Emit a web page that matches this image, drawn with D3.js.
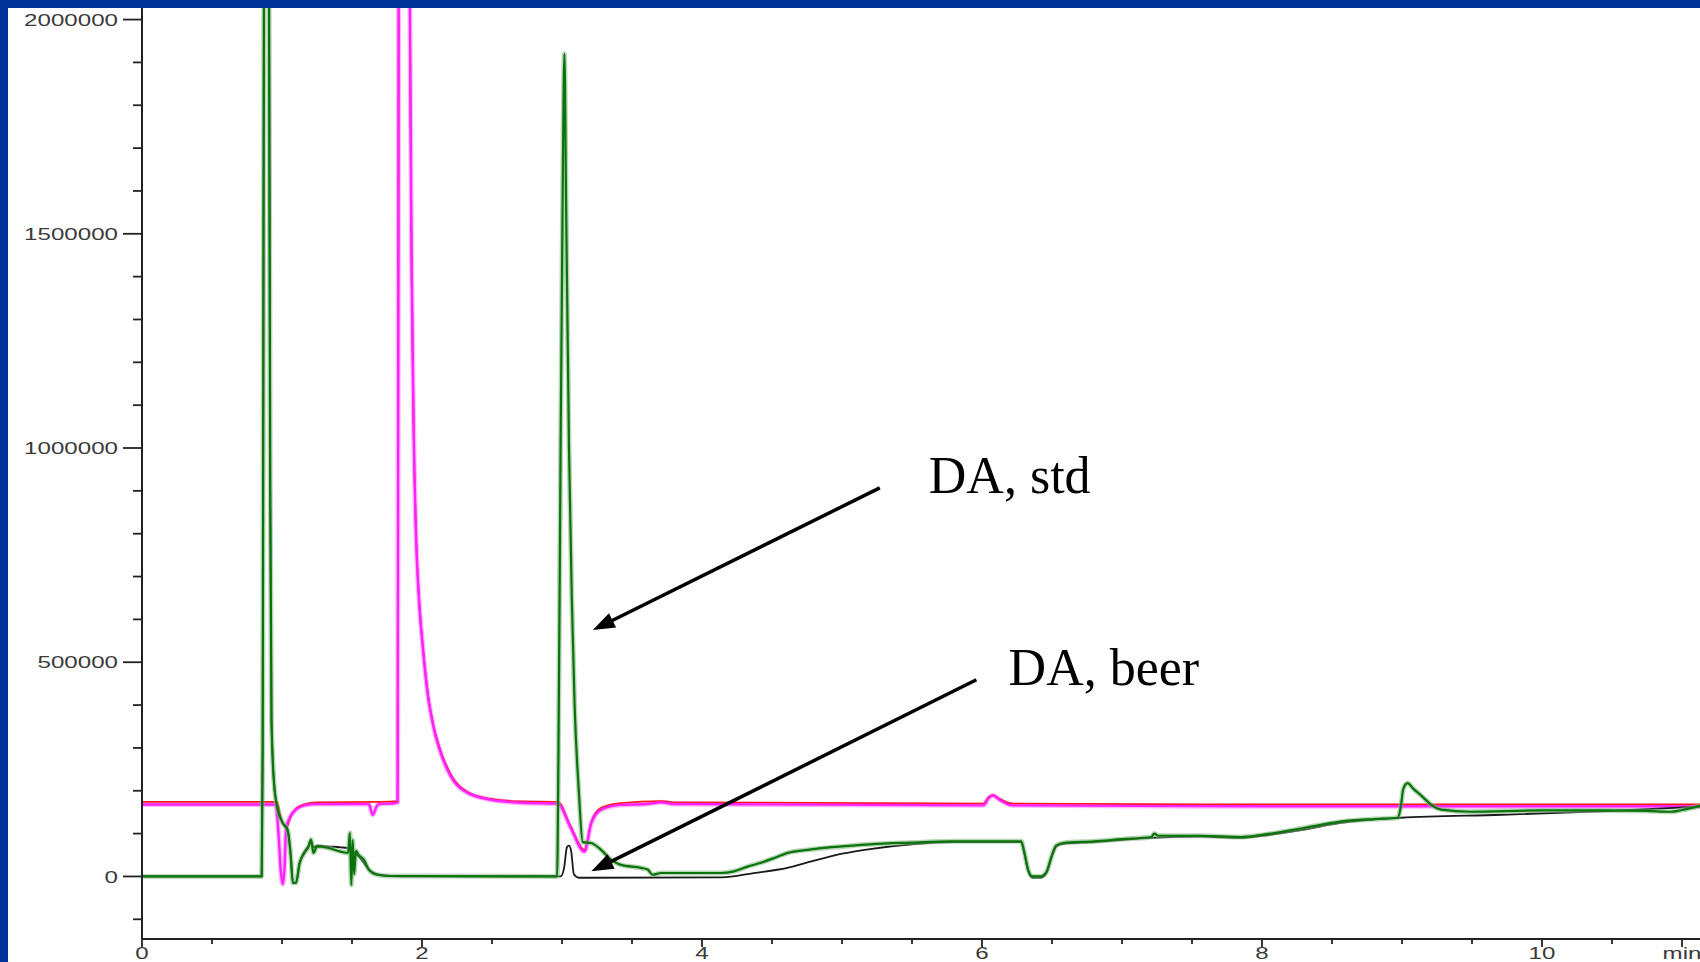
<!DOCTYPE html>
<html>
<head>
<meta charset="utf-8">
<script src="https://cdn.jsdelivr.net/npm/d3@7"></script>
<style>
  html, body { margin: 0; padding: 0; background: #fff; }
  svg { display: block; }
</style>
</head>
<body>
<svg id="chart" width="1700" height="962"></svg>
<script>
// Chromatogram: DA standard vs beer (time in min, signal in counts)

// red trace
const redTrace = [
  [0, 174000], [0.965, 174000], [0.99, 140000], [1.03, 113000], [1.06, 138000],
  [1.10, 158000], [1.16, 168000], [1.25, 173000], [1.70, 174000], [1.826, 176000],
  [1.835, 2500000], [1.86, 3500000], [1.895, 2700000], [1.91, 2200000], [1.925, 1450000],
  [1.94, 1050000], [1.957, 800000], [1.98, 640000], [2.005, 540000], [2.04, 430000],
  [2.08, 355000], [2.124, 302000], [2.207, 237000], [2.326, 197000], [2.493, 181000],
  [2.71, 175000], [2.97, 174000], [3.06, 118000], [3.16, 62000], [3.21, 128000],
  [3.28, 160000], [3.42, 171000], [3.71, 176000], [3.80, 173000], [6.01, 170000],
  [6.05, 186000], [6.08, 190000], [6.12, 182000], [6.22, 170000], [8.0, 168000],
  [11.13, 168000]
];

// magenta trace
const pinkTrace = [
  [0, 168000], [0.955, 168000], [0.975, 100000], [0.992, 10000], [1.005, -18000],
  [1.018, 20000], [1.03, 113000], [1.06, 140000], [1.10, 156000], [1.16, 166000],
  [1.25, 169000], [1.62, 169000], [1.648, 144000], [1.68, 166000], [1.70, 169000],
  [1.80, 171000], [1.826, 173000], [1.835, 2500000], [1.86, 3500000], [1.895, 2700000],
  [1.91, 2200000], [1.925, 1450000], [1.94, 1050000], [1.957, 800000], [1.98, 640000],
  [2.005, 538000], [2.04, 428000], [2.08, 352000], [2.124, 298000], [2.207, 233000],
  [2.326, 195000], [2.493, 179000], [2.71, 172000], [2.97, 170000], [3.06, 115000],
  [3.16, 58000], [3.21, 125000], [3.28, 156000], [3.42, 167000], [3.60, 169000],
  [3.71, 173000], [3.80, 169000], [6.01, 166000], [6.05, 184000], [6.08, 189000],
  [6.12, 180000], [6.22, 166000], [8.0, 164000], [11.13, 164000]
];

// black trace (beer)
const beerTrace = [
  [0, 0], [0.855, 0], [0.862, 300000], [0.868, 1500000], [0.878, 3000000],
  [0.898, 3000000], [0.908, 2000000], [0.916, 900000], [0.925, 366000], [0.945, 210000],
  [0.975, 150000], [1.005, 125000], [1.04, 109000], [1.062, 50000], [1.078, -15000],
  [1.10, -15000], [1.125, 30000], [1.16, 58000], [1.19, 72000], [1.207, 84000],
  [1.225, 68000], [1.25, 72000], [1.325, 70000], [1.42, 68000], [1.47, 66000],
  [1.50, 60000], [1.53, 52000], [1.57, 38000], [1.61, 20000], [1.65, 9000],
  [1.72, 3000], [1.85, 0], [2.99, 0], [3.015, 20000], [3.035, 68000],
  [3.05, 72000], [3.065, 60000], [3.085, 5000], [3.12, -3000], [4.14, -2000],
  [4.37, 8000], [4.61, 20000], [4.78, 35000], [4.85, 41000], [5.0, 53000],
  [5.2, 64000], [5.5, 75000], [5.78, 80000], [6.28, 80000], [6.30, 58000],
  [6.33, 12000], [6.36, -3000], [6.42, -3000], [6.46, 8000], [6.50, 48000],
  [6.53, 70000], [6.58, 76000], [6.8, 80000], [7.21, 90000], [7.56, 93000],
  [7.85, 90000], [8.0, 95000], [8.28, 108000], [8.56, 125000], [8.99, 137000],
  [9.71, 144000], [10.42, 152000], [11.13, 163000]
];

// green trace (standard)
const stdTrace = [
  [0, 0], [0.855, 0], [0.862, 300000], [0.868, 1500000], [0.878, 3000000],
  [0.898, 3000000], [0.908, 2000000], [0.916, 900000], [0.925, 366000], [0.945, 210000],
  [0.975, 150000], [1.005, 125000], [1.04, 109000], [1.062, 50000], [1.078, -15000],
  [1.10, -15000], [1.125, 30000], [1.16, 55000], [1.19, 70000], [1.207, 86000],
  [1.225, 55000], [1.25, 70000], [1.325, 67000], [1.42, 58000], [1.472, 55000],
  [1.485, 102000], [1.495, -20000], [1.505, 85000], [1.515, 5000], [1.528, 60000],
  [1.545, 51000], [1.585, 39000], [1.62, 16000], [1.68, 4000], [1.78, 1000],
  [2.965, 0], [2.975, 300000], [2.99, 1000000], [3.005, 1600000], [3.017, 1920000],
  [3.03, 1550000], [3.05, 1000000], [3.07, 650000], [3.09, 400000], [3.12, 200000],
  [3.148, 80000], [3.207, 78000], [3.279, 62000], [3.35, 39000], [3.421, 27000],
  [3.564, 20000], [3.612, 16000], [3.648, 4000], [3.707, 8000], [4.136, 8000],
  [4.229, 12000], [4.326, 23000], [4.421, 32000], [4.516, 43000], [4.612, 55000],
  [4.755, 62000], [4.85, 66000], [5.0, 70000], [5.2, 75000], [5.5, 79000],
  [5.78, 82000], [6.0, 82000], [6.28, 82000], [6.30, 60000], [6.33, 15000],
  [6.36, 0], [6.42, 0], [6.46, 10000], [6.50, 50000], [6.53, 72000],
  [6.58, 78000], [6.8, 82000], [7.0, 87000], [7.21, 92000], [7.23, 100000],
  [7.26, 95000], [7.56, 95000], [7.85, 92000], [8.0, 97000], [8.28, 112000],
  [8.56, 128000], [8.8, 134000], [8.97, 137000], [8.99, 160000], [9.01, 205000],
  [9.04, 218000], [9.08, 205000], [9.14, 188000], [9.21, 167000], [9.28, 156000],
  [9.49, 151000], [9.99, 154000], [10.42, 154000], [10.75, 153000], [10.92, 151000],
  [11.0, 155000], [11.13, 165000]
];

const yTickValues = [0, 500000, 1000000, 1500000, 2000000];
const yTickLabels = ["0", "500000", "1000000", "1500000", "2000000"];
const xTickValues = [0, 2, 4, 6, 8, 10, 11];
const xTickLabels = ["0", "2", "4", "6", "8", "10", "min"];

// annotations: label at [t, value], arrow from -> to in data units
const notes = [
  { text: "DA, std",  at: [5.62, 895000], from: [5.27, 907000], to: [3.22, 575000] },
  { text: "DA, beer", at: [6.19, 447000], from: [5.96, 459000], to: [3.21, 12000] }
];

const svg = d3.select("#chart");
const W = 1700, H = 962;
const plotLeft = 142, plotTop = 8, plotRight = 1700, plotBottom = 939;

const x = d3.scaleLinear().domain([0, (plotRight - plotLeft) / 140]).range([plotLeft, plotRight]);
const y = d3.scaleLinear().domain([-146000, 2027000]).range([plotBottom, plotTop]);

svg.append("rect").attr("width", W).attr("height", H).attr("fill", "#fff");

svg.append("defs").append("clipPath").attr("id", "plot-clip")
  .append("rect")
  .attr("x", plotLeft).attr("y", plotTop)
  .attr("width", plotRight - plotLeft).attr("height", plotBottom - plotTop);

const line = d3.line()
  .x(d => x(d[0]))
  .y(d => y(d[1]))
  .curve(d3.curveMonotoneX);

const plot = svg.append("g").attr("clip-path", "url(#plot-clip)");

function trace(data, color, width, opacity) {
  plot.append("path").datum(data)
    .attr("d", line).attr("fill", "none")
    .attr("stroke", color).attr("stroke-width", width)
    .attr("stroke-opacity", opacity == null ? 1 : opacity)
    .attr("stroke-linejoin", "round");
}

// red sits just above magenta; the soft halos mimic the blurry scan
trace(pinkTrace, "#ff70ff", 5, 0.5);
trace(redTrace, "#ff1a1a", 1.8);
trace(pinkTrace, "#ff22ff", 2.4);
trace(beerTrace, "#1a1a1a", 1.8);
trace(stdTrace, "#7fb47f", 5, 0.55);
trace(stdTrace, "#0a740a", 2.2);

// axes
const axisColor = "#222";
const labelColor = "#3a3a3a";
const stretch = 1.42; // tick labels in the source are drawn wide

const axes = svg.append("g");

axes.append("line")
  .attr("x1", plotLeft).attr("x2", plotLeft).attr("y1", plotTop).attr("y2", plotBottom)
  .attr("stroke", axisColor).attr("stroke-width", 2);
axes.append("line")
  .attr("x1", plotLeft).attr("x2", plotRight).attr("y1", plotBottom).attr("y2", plotBottom)
  .attr("stroke", axisColor).attr("stroke-width", 2);

// y minor ticks every 100000
axes.append("g").selectAll("line")
  .data(d3.range(-100000, 2000001, 100000))
  .join("line")
  .attr("x1", d => yTickValues.includes(d) ? plotLeft - 19 : plotLeft - 9)
  .attr("x2", plotLeft)
  .attr("y1", d => y(d)).attr("y2", d => y(d))
  .attr("stroke", axisColor).attr("stroke-width", 1.8);

axes.append("g").selectAll("text")
  .data(yTickValues)
  .join("text")
  .attr("transform", d => `translate(${plotLeft - 24},${y(d)}) scale(${stretch},1)`)
  .attr("dy", "0.36em")
  .attr("text-anchor", "end")
  .attr("font-family", "Liberation Sans, Arial, sans-serif")
  .attr("font-size", 17)
  .attr("fill", labelColor)
  .text((d, i) => yTickLabels[i]);

// x minor ticks every 0.5 min
axes.append("g").selectAll("line")
  .data(d3.range(0, 11.01, 0.5))
  .join("line")
  .attr("x1", d => x(d)).attr("x2", d => x(d))
  .attr("y1", plotBottom)
  .attr("y2", d => xTickValues.includes(d) ? plotBottom + 8 : plotBottom + 5)
  .attr("stroke", axisColor).attr("stroke-width", 1.8);

axes.append("g").selectAll("text")
  .data(xTickValues)
  .join("text")
  .attr("transform", d => `translate(${x(d)},${plotBottom + 20}) scale(${stretch},1)`)
  .attr("text-anchor", "middle")
  .attr("font-family", "Liberation Sans, Arial, sans-serif")
  .attr("font-size", 17)
  .attr("fill", labelColor)
  .text((d, i) => xTickLabels[i]);

// annotations
const ann = svg.append("g");
notes.forEach(n => {
  const x1 = x(n.from[0]), y1 = y(n.from[1]);
  const x2 = x(n.to[0]), y2 = y(n.to[1]);
  const ang = Math.atan2(y2 - y1, x2 - x1);
  const headLen = 22, headHalf = 8;
  const bx = x2 - headLen * Math.cos(ang), by = y2 - headLen * Math.sin(ang);
  ann.append("line")
    .attr("x1", x1).attr("y1", y1)
    .attr("x2", bx + 2 * Math.cos(ang)).attr("y2", by + 2 * Math.sin(ang))
    .attr("stroke", "#000").attr("stroke-width", 3.5);
  const px = -Math.sin(ang), py = Math.cos(ang);
  ann.append("polygon")
    .attr("points", [
      [x2, y2],
      [bx + headHalf * px, by + headHalf * py],
      [bx - headHalf * px, by - headHalf * py]
    ].map(p => p.join(",")).join(" "))
    .attr("fill", "#000");
  ann.append("text")
    .attr("x", x(n.at[0])).attr("y", y(n.at[1]))
    .attr("font-family", "Liberation Serif, Times New Roman, serif")
    .attr("font-size", 52)
    .attr("fill", "#000")
    .text(n.text);
});

// blue slide frame on top and left
svg.append("rect").attr("x", 0).attr("y", 0).attr("width", W).attr("height", 8).attr("fill", "#003399");
svg.append("rect").attr("x", 0).attr("y", 0).attr("width", 8).attr("height", H).attr("fill", "#003399");
</script>
</body>
</html>
